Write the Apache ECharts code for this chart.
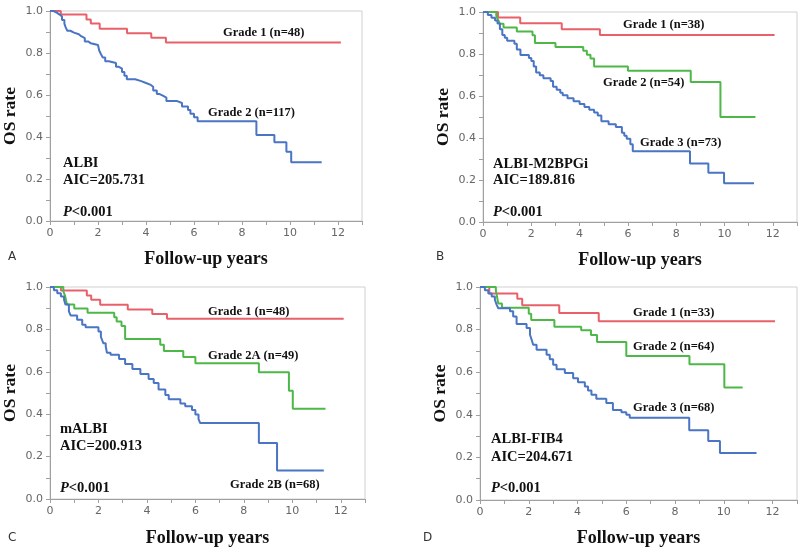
<!DOCTYPE html>
<html>
<head>
<meta charset="utf-8">
<script src="https://cdn.jsdelivr.net/npm/echarts@6/dist/echarts.min.js"></script>
<style>html,body{margin:0;padding:0;background:#fff}#c{width:800px;height:551px}</style>
</head>
<body>
<div id="c"></div>
<script>
// Kaplan-Meier step data: [years, OS rate]
const A_grade1 = [[0,1],[0.45,0.983],[1.52,0.96],[1.7,0.94],[2.07,0.916],[3.21,0.894],[4.22,0.873],[4.83,0.85],[12.12,0.85]];
const A_grade2 = [[0,1],[0.15,0.991],[0.3,0.983],[0.4,0.974],[0.5,0.957],[0.6,0.94],[0.65,0.923],[0.72,0.906],[0.85,0.897],[1.0,0.889],[1.2,0.88],[1.3,0.871],[1.45,0.855],[1.6,0.846],[1.7,0.838],[2.0,0.829],[2.05,0.812],[2.12,0.795],[2.2,0.778],[2.3,0.761],[2.45,0.752],[2.75,0.735],[2.85,0.726],[3.0,0.709],[3.1,0.692],[3.2,0.675],[3.55,0.666],[3.8,0.657],[4.0,0.648],[4.2,0.639],[4.3,0.622],[4.45,0.605],[4.55,0.597],[4.7,0.588],[4.85,0.571],[5.3,0.562],[5.5,0.545],[5.75,0.528],[5.85,0.511],[6.0,0.494],[6.15,0.475],[8.6,0.41],[9.35,0.375],[9.85,0.33],[10.05,0.28],[11.32,0.28]];

const B_grade1 = [[0,1],[0.62,0.974],[1.54,0.947],[3.26,0.918],[4.84,0.891],[12.07,0.891]];
const B_grade2 = [[0,1],[0.55,0.981],[0.62,0.963],[0.7,0.944],[0.85,0.926],[1.4,0.907],[2.05,0.889],[2.15,0.852],[3.0,0.833],[4.15,0.815],[4.3,0.796],[4.45,0.778],[4.6,0.741],[6.0,0.72],[8.6,0.667],[9.83,0.5],[11.28,0.5]];
const B_grade3 = [[0,1],[0.2,0.986],[0.35,0.973],[0.5,0.959],[0.6,0.945],[0.7,0.918],[0.8,0.89],[0.9,0.877],[1.0,0.863],[1.3,0.849],[1.4,0.822],[1.55,0.795],[1.9,0.781],[2.0,0.767],[2.1,0.74],[2.2,0.712],[2.35,0.699],[2.5,0.685],[2.8,0.671],[2.9,0.644],[3.05,0.63],[3.2,0.616],[3.3,0.603],[3.5,0.589],[3.75,0.575],[4.0,0.562],[4.2,0.548],[4.4,0.534],[4.6,0.521],[4.75,0.507],[4.9,0.48],[5.2,0.466],[5.5,0.452],[5.75,0.425],[5.85,0.411],[5.95,0.397],[6.1,0.37],[6.2,0.337],[8.57,0.279],[9.33,0.235],[9.98,0.184],[11.22,0.184]];

const C_grade1 = A_grade1;
const C_grade2A = [[0,1],[0.55,0.98],[0.62,0.959],[0.7,0.918],[1.0,0.898],[1.55,0.878],[2.65,0.857],[2.75,0.837],[2.95,0.816],[3.1,0.755],[4.55,0.728],[4.7,0.698],[5.5,0.67],[6.0,0.64],[8.62,0.598],[9.86,0.511],[10.02,0.426],[11.37,0.426]];
const C_grade2B = [[0,1],[0.16,0.985],[0.3,0.97],[0.45,0.955],[0.58,0.94],[0.64,0.917],[0.78,0.885],[0.85,0.866],[1.12,0.846],[1.33,0.822],[1.47,0.81],[2.0,0.79],[2.1,0.765],[2.15,0.75],[2.2,0.735],[2.3,0.72],[2.35,0.69],[2.5,0.68],[2.85,0.66],[3.1,0.637],[3.4,0.613],[3.73,0.59],[4.07,0.566],[4.28,0.547],[4.48,0.516],[4.76,0.49],[4.9,0.47],[5.38,0.45],[5.58,0.437],[5.86,0.42],[6.0,0.398],[6.13,0.377],[6.2,0.358],[8.62,0.264],[9.37,0.134],[11.3,0.134]];

const D_grade1 = [[0,1],[0.38,0.97],[1.53,0.945],[1.73,0.914],[3.25,0.878],[4.87,0.839],[12.1,0.839]];
const D_grade2 = [[0,1],[0.65,0.984],[0.7,0.953],[0.75,0.922],[0.9,0.903],[2.0,0.875],[2.1,0.845],[3.05,0.813],[4.15,0.797],[4.55,0.775],[4.8,0.742],[6.0,0.676],[8.59,0.637],[10.02,0.528],[10.77,0.528]];
const D_grade3 = [[0,1],[0.2,0.985],[0.34,0.97],[0.48,0.955],[0.61,0.94],[0.68,0.917],[0.75,0.9],[1.23,0.886],[1.36,0.862],[1.5,0.826],[1.91,0.807],[2.05,0.776],[2.12,0.752],[2.18,0.729],[2.32,0.705],[2.73,0.682],[2.86,0.661],[3.0,0.635],[3.14,0.614],[3.48,0.596],[3.82,0.572],[4.02,0.553],[4.3,0.533],[4.43,0.514],[4.57,0.494],[4.77,0.475],[5.18,0.455],[5.45,0.423],[5.8,0.412],[6.0,0.4],[6.14,0.386],[8.58,0.327],[9.36,0.277],[9.84,0.221],[11.34,0.221]];

const RED = '#E8616A', GREEN = '#4DB848', BLUE = '#4A74C4';
const panelLetters = ['A','B','C','D'];
const xTicks = [0,2,4,6,8,10,12];

const panels = [
  {grid:{left:49,top:11,width:313,height:210}, xGap:29, series:[[A_grade1,RED],[A_grade2,BLUE]]},
  {grid:{left:483,top:12,width:316,height:210}, xGap:29, series:[[B_grade1,RED],[B_grade2,GREEN],[B_grade3,BLUE]]},
  {grid:{left:49,top:287,width:316,height:212}, xGap:30, series:[[C_grade1,RED],[C_grade2A,GREEN],[C_grade2B,BLUE]]},
  {grid:{left:480,top:287,width:318,height:213}, xGap:29, series:[[D_grade1,RED],[D_grade2,GREEN],[D_grade3,BLUE]]}
];

const chart = echarts.init(document.getElementById('c'), null, {renderer:'canvas'});
const grids = [], xAxes = [], yAxes = [], series = [];
const axisStyle = {lineStyle:{color:'#a0a0a0',width:1}};
panels.forEach((p,i)=>{
  grids.push(Object.assign({show:true,borderColor:'#d0d0d0',borderWidth:1,backgroundColor:'#fff'}, p.grid));
  xAxes.push({type:'value',gridIndex:i,min:0,max:13,interval:1,
    name:'Follow-up years',nameLocation:'middle',nameGap:p.xGap,
    nameTextStyle:{fontFamily:'Liberation Serif',fontWeight:'bold',fontSize:18,color:'#111'},
    axisLine:Object.assign({show:true},axisStyle),axisTick:{show:true,length:4,lineStyle:{color:'#a0a0a0'}},
    splitLine:{show:false},
    axisLabel:{fontFamily:'DejaVu Sans',fontSize:11,color:'#666',margin:7,
      formatter:v=>xTicks.indexOf(v)>=0?String(v):''}});
  yAxes.push({type:'value',gridIndex:i,min:0,max:1,interval:0.1,
    name:'OS rate',nameLocation:'middle',nameGap:31,nameRotate:90,
    nameTextStyle:{fontFamily:'Liberation Serif',fontWeight:'bold',fontSize:17.5,color:'#111'},
    axisLine:Object.assign({show:true},axisStyle),axisTick:{show:true,length:4,lineStyle:{color:'#a0a0a0'}},
    splitLine:{show:false},
    axisLabel:{fontFamily:'DejaVu Sans',fontSize:11,color:'#666',margin:7,
      formatter:v=>{const k=Math.round(v*10);return k%2===0?(k/10).toFixed(1):'';}}});
  p.series.forEach(s=>{
    series.push({type:'line',xAxisIndex:i,yAxisIndex:i,step:'end',data:s[0],showSymbol:false,symbol:'none',
      lineStyle:{color:s[1],width:2},itemStyle:{color:s[1]},z:3,animation:false});
  });
});

const serif = 'bold 12.5px "Liberation Serif"';
const serif14 = 'bold 14.5px "Liberation Serif"';
function t(text,x,y,font,color){return {type:'text',x:x,y:y,z:10,style:{text:text,font:font||serif,fill:color||'#111',textVerticalAlign:'middle',verticalAlign:'middle'}};}
function pval(x,y){return {type:'text',x:x,y:y,z:10,style:{text:'{i|P}{n|<0.001}',verticalAlign:'middle',textVerticalAlign:'middle',
  rich:{i:{font:'italic bold 14.5px "Liberation Serif"',fill:'#111'},n:{font:serif14,fill:'#111'}}}};}
const letterFont = '12px "DejaVu Sans"';
const graphics = [
  // Panel A
  t('Grade 1 (n=48)',223,33), t('Grade 2 (n=117)',208,113),
  t('ALBI',63,163,serif14), t('AIC=205.731',63,180,serif14), pval(63,212),
  // Panel B
  t('Grade 1 (n=38)',623,25), t('Grade 2 (n=54)',603,83), t('Grade 3 (n=73)',640,143),
  t('ALBI-M2BPGi',493,164,serif14), t('AIC=189.816',493,180,serif14), pval(493,212),
  // Panel C
  t('Grade 1 (n=48)',208,312), t('Grade 2A (n=49)',208,356), t('Grade 2B (n=68)',230,485),
  t('mALBI',60,429,serif14), t('AIC=200.913',60,446,serif14), pval(60,488),
  // Panel D
  t('Grade 1 (n=33)',633,313), t('Grade 2 (n=64)',633,347), t('Grade 3 (n=68)',633,408),
  t('ALBI-FIB4',491,439,serif14), t('AIC=204.671',491,457,serif14), pval(491,488),
  // panel letters
  t(panelLetters[0],8,257,letterFont,'#333'), t(panelLetters[1],436,257,letterFont,'#333'),
  t(panelLetters[2],8,538,letterFont,'#333'), t(panelLetters[3],423,538,letterFont,'#333')
];

chart.setOption({animation:false,backgroundColor:'#fff',grid:grids,xAxis:xAxes,yAxis:yAxes,series:series,graphic:graphics});
</script>
</body>
</html>
